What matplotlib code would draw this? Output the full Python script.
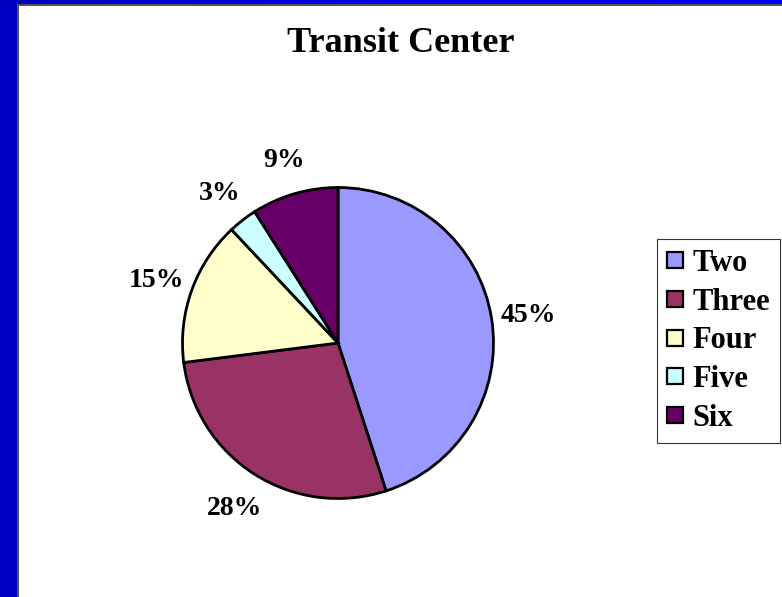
import matplotlib
matplotlib.use("Agg")
import matplotlib.pyplot as plt
import numpy as np
from matplotlib.patches import Rectangle
from matplotlib.lines import Line2D
from matplotlib.colors import LinearSegmentedColormap

categories = ["Two", "Three", "Four", "Five", "Six"]
values = [45, 28, 15, 3, 9]
colors = ["#9999FF", "#993366", "#FFFFCC", "#CCFFFF", "#660066"]
title = "Transit Center"

W, H = 782, 597
fig = plt.figure(figsize=(W / 100, H / 100), dpi=100)
fig.patch.set_facecolor("#0000C4")

# top strip gradient
gax = fig.add_axes([0, 1 - 5 / H, 1, 5 / H])
grad = np.linspace(0, 1, 256).reshape(1, -1)
cm = LinearSegmentedColormap.from_list("b", ["#0000C0", "#0000F0", "#0000FF"])
gax.imshow(grad, aspect="auto", cmap=cm, extent=[0, 1, 0, 1])
gax.axis("off")

# white panel with gray edge
fig.patches.append(Rectangle((17 / W, 0), 1 - 17 / W, 1 - 4 / H, transform=fig.transFigure,
                             facecolor="#555555", edgecolor="none", zorder=1))
fig.patches.append(Rectangle((19 / W, 0), 1 - 19 / W, 1 - 6 / H, transform=fig.transFigure,
                             facecolor="white", edgecolor="none", zorder=2))

serif = ["Liberation Serif", "DejaVu Serif"]

cx, cy, r = 338, 343, 155.5
half = 1.5 * r
ax = fig.add_axes([(cx - half) / W, (H - cy - half) / H, 2 * half / W, 2 * half / H])
ax.set_zorder(5)
wedges, texts, autotexts = ax.pie(
    values, colors=colors, startangle=90, counterclock=False, radius=1,
    autopct=lambda p: f"{p:.0f}%", pctdistance=1.24,
    wedgeprops=dict(edgecolor="black", linewidth=2.0),
    textprops=dict(fontfamily=serif, fontweight="bold", fontsize=20, color="black"),
)
for t in autotexts:
    t.set_verticalalignment("center_baseline")
ax.set_xlim(-1.5, 1.5)
ax.set_ylim(-1.5, 1.5)
ax.set_aspect("equal")
ax.axis("off")

fig.text(401 / W, 1 - 43 / H, title, ha="center", va="center", fontsize=26,
         fontweight="bold", family=serif, zorder=10)

handles = [Line2D([], [], marker="s", linestyle="none", markersize=11,
                  markerfacecolor=c, markeredgecolor="black", markeredgewidth=1.6)
           for c in colors]
leg = fig.legend(handles, categories, loc="upper left",
                 bbox_to_anchor=(657 / W, 1 - 239 / H),
                 prop=dict(family=serif, weight="bold", size=22),
                 frameon=True, fancybox=False, edgecolor="black",
                 handlelength=0.55, handletextpad=0.3, borderpad=0.32,
                 labelspacing=0.32, borderaxespad=0)
leg.get_frame().set_linewidth(0.8)
leg.set_zorder(10)

fig.savefig("out.png", dpi=100)
